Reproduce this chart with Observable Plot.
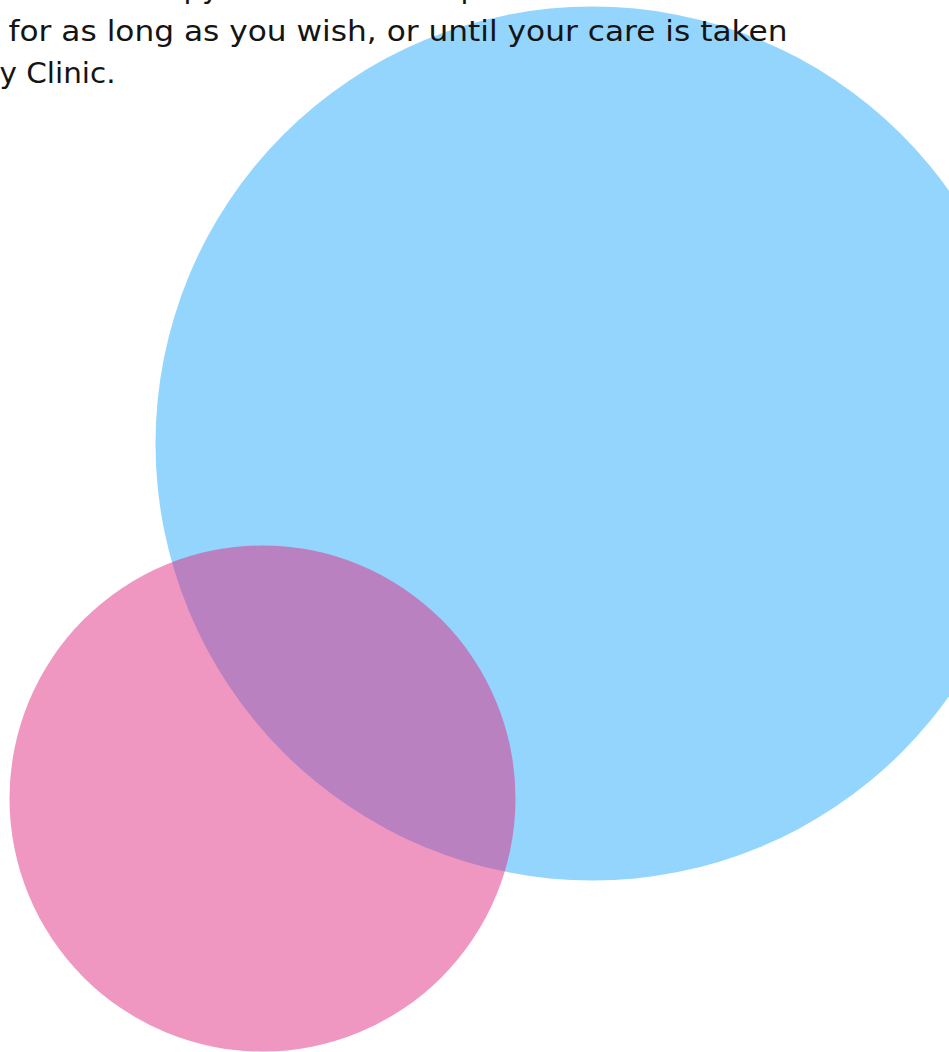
<!DOCTYPE html>
<html>
<head>
<meta charset="utf-8">
<script src="https://cdn.jsdelivr.net/npm/d3@7"></script>
<script src="https://cdn.jsdelivr.net/npm/@observablehq/plot@0.6"></script>
<style>
  html, body { margin: 0; padding: 0; background: #fff; overflow: hidden; }
  #chart svg { display: block; }
</style>
</head>
<body>
<div id="chart"></div>
<script>
// Circles (bubble chart): name, centre x, centre y, radius (in pixel-like data units)
const circleNames = ["Blue", "Pink"];
const circleX = [592, 262];
const circleY = [443, 798];
const circleR = [437, 253];
const circleColors = ["#94d5fd", "#df2d83"];
const circleOpacity = [1, 0.5];

// Text lines (partially cropped paragraph)
const textLines = [
  "py",
  "p",
  "for as long as you wish, or until your care is taken",
  "y Clinic."
];
const textX = [183, 460, 8, -1];
const textY = [-3, -3, 40, 82];
const textWidths = [null, null, 779, 116];

const circles = circleNames.map((n, i) => ({
  name: n, x: circleX[i], y: circleY[i], r: circleR[i],
  fill: circleColors[i], op: circleOpacity[i]
}));
const texts = textLines.map((t, i) => ({ t, x: textX[i], y: textY[i] }));

const W = 949, H = 1052;
const plot = Plot.plot({
  width: W,
  height: H,
  margin: 0,
  x: { type: "linear", domain: [0, W], range: [0, W], axis: null },
  y: { type: "linear", domain: [0, H], range: [0, H], axis: null },
  r: { type: "identity" },
  marks: [
    Plot.dot(circles, {
      x: "x", y: "y", r: "r",
      fill: "fill", fillOpacity: "op", stroke: null
    }),
    Plot.text(texts, {
      x: "x", y: "y", text: "t",
      textAnchor: "start", lineAnchor: "bottom",
      fontSize: 29, fontFamily: "DejaVu Sans", fill: "#141414"
    })
  ]
});
document.getElementById("chart").appendChild(plot);

// Fit the visible lines to the widths measured on the reference
plot.querySelectorAll("text").forEach(el => {
  const i = textLines.indexOf(el.textContent);
  if (i >= 0 && textWidths[i]) {
    el.setAttribute("textLength", textWidths[i]);
    el.setAttribute("lengthAdjust", "spacingAndGlyphs");
  }
});
</script>
</body>
</html>
